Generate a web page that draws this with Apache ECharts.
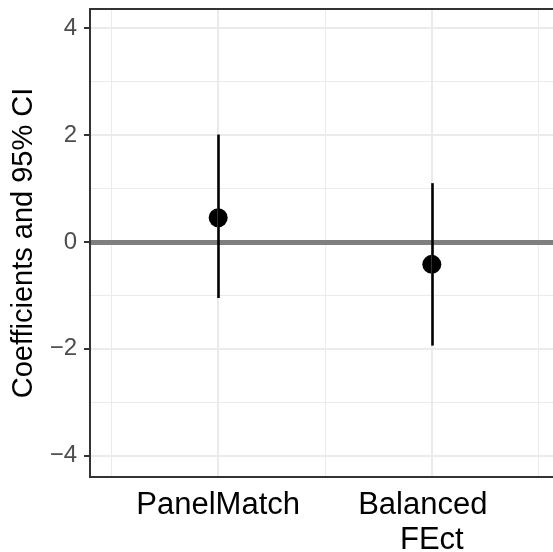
<!DOCTYPE html>
<html>
<head>
<meta charset="utf-8">
<script src="https://cdn.jsdelivr.net/npm/echarts@6/dist/echarts.min.js"></script>
<style>html,body{margin:0;padding:0;background:#fff;overflow:hidden;}#chart{width:553px;height:552px;}</style>
</head>
<body>
<div id="chart"></div>
<script>
const categories = ['PanelMatch', 'Balanced\nFEct'];
const categoryPos = [1, 2];
const estimates = [0.454, -0.42];
const ciLower = [-1.05, -1.94];
const ciUpper = [2.01, 1.10];
const yTicks = [-4, -2, 0, 2, 4];
const yMinorTicks = [-3, -1, 1, 3];
const xMinorTicks = [0.5, 1.5, 2.5];
const yTitle = 'Coefficients and 95% CI';

const FONT = '"Liberation Sans", Arial, Helvetica, sans-serif';
const chart = echarts.init(document.getElementById('chart'), null, {renderer: 'canvas'});

const gridMajor = {color: '#ebebeb', width: 2, type: 'solid'};
const gridMinor = {color: '#ebebeb', width: 1, type: 'solid'};

const gridLines = []
  .concat(yMinorTicks.map(v => ({yAxis: v, lineStyle: gridMinor})))
  .concat(xMinorTicks.map(v => ({xAxis: v, lineStyle: gridMinor})))
  .concat(yTicks.map(v => ({yAxis: v, lineStyle: gridMajor})))
  .concat(categoryPos.map(v => ({xAxis: v, lineStyle: gridMajor})));

const errorBars = categoryPos.map((x, i) => [
  {coord: [x, ciLower[i]]},
  {coord: [x, ciUpper[i]]}
]);

function xLabel(v) {
  const name = categories[categoryPos.indexOf(v)] || '';
  const lines = name.split('\n');
  if (lines.length === 1) return '{s|' + lines[0] + '}';
  return '{f|' + lines[0] + '}\n{s|' + lines.slice(1).join('\n') + '}';
}

const option = {
  animation: false,
  backgroundColor: '#ffffff',
  grid: {left: 90, top: 9, right: -7, bottom: 75, containLabel: false, outerBoundsMode: 'none', show: false},
  xAxis: {
    type: 'value', min: 0.4, max: 2.6,
    axisLine: {show: false},
    axisTick: {show: true, length: 6, lineStyle: {color: '#333333', width: 2}, customValues: categoryPos},
    splitLine: {show: false},
    axisLabel: {
      customValues: categoryPos,
      formatter: xLabel,
      color: '#000000', fontSize: 31, fontFamily: FONT, margin: 11, lineHeight: 35, align: 'center',
      rich: {
        f: {color: '#000000', fontSize: 31, fontFamily: FONT, lineHeight: 35, padding: [0, 18, 0, 0]},
        s: {color: '#000000', fontSize: 31, fontFamily: FONT, lineHeight: 35}
      }
    }
  },
  yAxis: {
    type: 'value', min: -4.4, max: 4.36,
    name: yTitle, nameLocation: 'middle', nameRotate: 90, nameGap: 50,
    nameTextStyle: {color: '#000000', fontSize: 29, fontFamily: FONT},
    axisLine: {show: false},
    axisTick: {show: true, length: 6, lineStyle: {color: '#333333', width: 2}, customValues: yTicks},
    splitLine: {show: false},
    axisLabel: {
      customValues: yTicks,
      formatter: v => (v < 0 ? '\u2212' + Math.abs(v) : String(v)),
      color: '#4d4d4d', fontSize: 24, fontFamily: FONT, margin: 13
    }
  },
  series: [
    {
      type: 'scatter', data: [], z: 1, silent: true,
      markLine: {silent: true, symbol: 'none', label: {show: false}, animation: false, data: gridLines}
    },
    {
      type: 'scatter', data: [], z: 2, silent: true,
      markLine: {silent: true, symbol: 'none', label: {show: false}, animation: false,
        data: [{yAxis: 0, lineStyle: {color: '#7f7f7f', width: 5, type: 'solid'}}]}
    },
    {
      type: 'scatter', data: [], z: 3, silent: true,
      markLine: {silent: true, symbol: 'none', label: {show: false}, animation: false,
        lineStyle: {color: '#000000', width: 2.6, type: 'solid', opacity: 1},
        data: errorBars}
    },
    {
      type: 'scatter', z: 4, silent: true,
      symbol: 'circle', symbolSize: 19,
      itemStyle: {color: '#000000', opacity: 1},
      data: categoryPos.map((x, i) => [x, estimates[i]])
    },
    {
      type: 'custom', z: 5, silent: true, data: [[0]], clip: false,
      renderItem: function (params, api) {
        const tl = api.coord([0.4, 4.36]);
        const br = api.coord([2.6, -4.4]);
        return {type: 'group', children: [
          {type: 'line', shape: {x1: tl[0], y1: tl[1], x2: br[0] + 2, y2: tl[1]},
            style: {stroke: '#333333', lineWidth: 2}},
          {type: 'line', shape: {x1: tl[0], y1: tl[1] - 1, x2: tl[0], y2: br[1] + 1},
            style: {stroke: '#333333', lineWidth: 2}},
          {type: 'line', shape: {x1: tl[0], y1: br[1], x2: br[0] + 2, y2: br[1]},
            style: {stroke: '#333333', lineWidth: 2}}
        ]};
      }
    }
  ]
};
chart.setOption(option);
</script>
</body>
</html>
